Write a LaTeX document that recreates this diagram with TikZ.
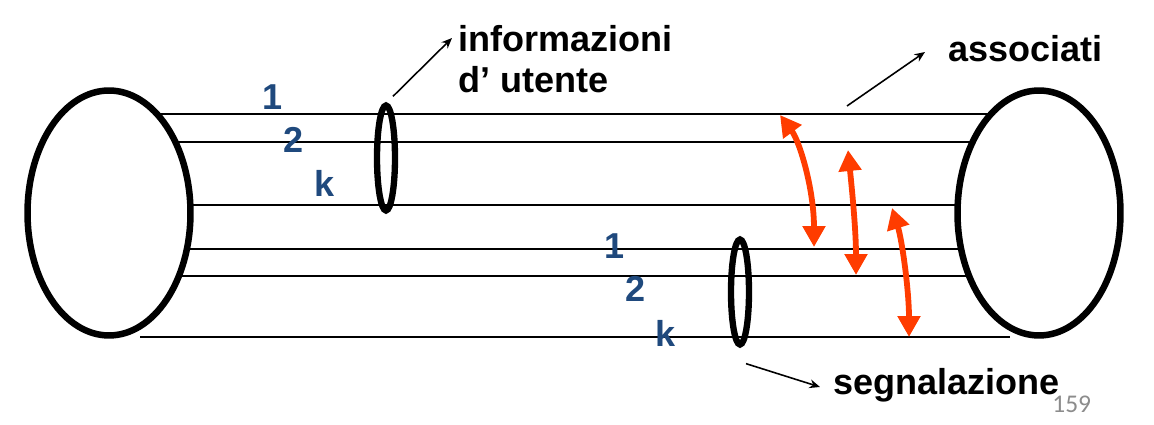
\documentclass[tikz,border=0pt]{standalone}
\usepackage{fontspec}
\setmainfont{Liberation Sans}
\newfontfamily\pagefont{Carlito}
\usepackage{tikz}
\usetikzlibrary{shapes.geometric, arrows.meta, calc, backgrounds}
\definecolor{chanblue}{RGB}{31,73,125}
\definecolor{linkred}{RGB}{255,60,0}
\definecolor{pagegray}{RGB}{140,140,140}
\tikzstyle{tube} = [ellipse, minimum width=3.26cm, minimum height=4.9cm, inner sep=0pt, draw=black, line width=3.7pt, fill=white]
\tikzstyle{ring} = [ellipse, minimum width=0.36cm, minimum height=2.1cm, inner sep=0pt, draw=black, line width=3.6pt]
\tikzstyle{wire} = [draw=black, line width=1.1pt]
\tikzstyle{num} = [inner sep=0pt, text=chanblue, font=\fontsize{20.5}{24}\selectfont\bfseries]
\tikzstyle{txt} = [inner sep=0pt, anchor=base west, font=\fontsize{20.5}{24}\selectfont\bfseries]
\tikzstyle{arrow} = [-{Stealth[length=6pt, width=5pt]}, line width=0.9pt]
\tikzstyle{swap} = [{Triangle[length=0.42cm, width=0.44cm]}-{Triangle[length=0.42cm, width=0.44cm]}, draw=linkred, line width=3.3pt]

\begin{document}
\begin{tikzpicture}[x=0.02cm, y=-0.02cm]
	\useasboundingbox (0,0) rectangle (1154,425);
	\node (left) [tube] at (109,213) {};
	\node (right) [tube] at (1039,213) {};
	\node (ring1) [ring] at (386,158) {};
	\node (ring2) [ring] at (740,292) {};
	
	% canali tra le due estremita
	\begin{scope}[on background layer]
	\draw [wire] ($(left.center)+(0,-99)$) -- ($(right.center)+(0,-99)$);
	\draw [wire] ($(left.center)+(0,-71)$) -- ($(right.center)+(0,-71)$);
	\draw [wire] ($(left.center)+(0,-8)$) -- ($(right.center)+(0,-8)$);
	\draw [wire] ($(left.center)+(0,36)$) -- ($(right.center)+(0,36)$);
	\draw [wire] ($(left.center)+(0,63)$) -- ($(right.center)+(0,63)$);
	\draw [wire] ($(left.center)+(31,124)$) -- ($(right.center)+(-29,124)$);
	\end{scope}
	
	\node (u1) [num] at (273,97) {1};
	\node (u2) [num] at (294,140) {2};
	\node (uk) [num] at (325,183) {k};
	\node (s1) [num] at (615,246) {1};
	\node (s2) [num] at (636,289) {2};
	\node (sk) [num] at (666,333) {k};
	
	\node (info) [txt] at (458,52) {informazioni};
	\node (user) [txt] at (458,93) {d’ utente};
	\node (assoc) [txt] at (948,62) {associati};
	\node (segn) [txt] at (833,395) {segnalazione};
	\node (page) [inner sep=0pt, anchor=base west, text=pagegray, font=\pagefont\fontsize{14.5}{17}\selectfont] at (1052,413) {159};
	
	\coordinate (assoctail) at (847,106);
	\draw [arrow]([shift={(7,-6)}]ring1.north) -- ([shift={(-6,-14)}]info.base west);
	\draw [arrow](assoctail) -- ([shift={(-23,-10)}]assoc.base west);
	\draw [arrow]([shift={(6,16)}]ring2.south) -- ([shift={(-13,-8)}]segn.base west);
	
	% associazione utente - segnalazione
	\coordinate (a1) at (780,115);
	\coordinate (b1) at (814,247);
	\coordinate (a2) at (848,150);
	\coordinate (b2) at (856,275);
	\coordinate (ak) at (892,208);
	\coordinate (bk) at (909,337);
	\draw [swap](a1) .. controls (800,142) and (814,190) .. (b1);
	\draw [swap](a2) .. controls (852,190) and (856,230) .. (b2);
	\draw [swap](ak) .. controls (902,240) and (909,290) .. (bk);
\end{tikzpicture}
\end{document}
